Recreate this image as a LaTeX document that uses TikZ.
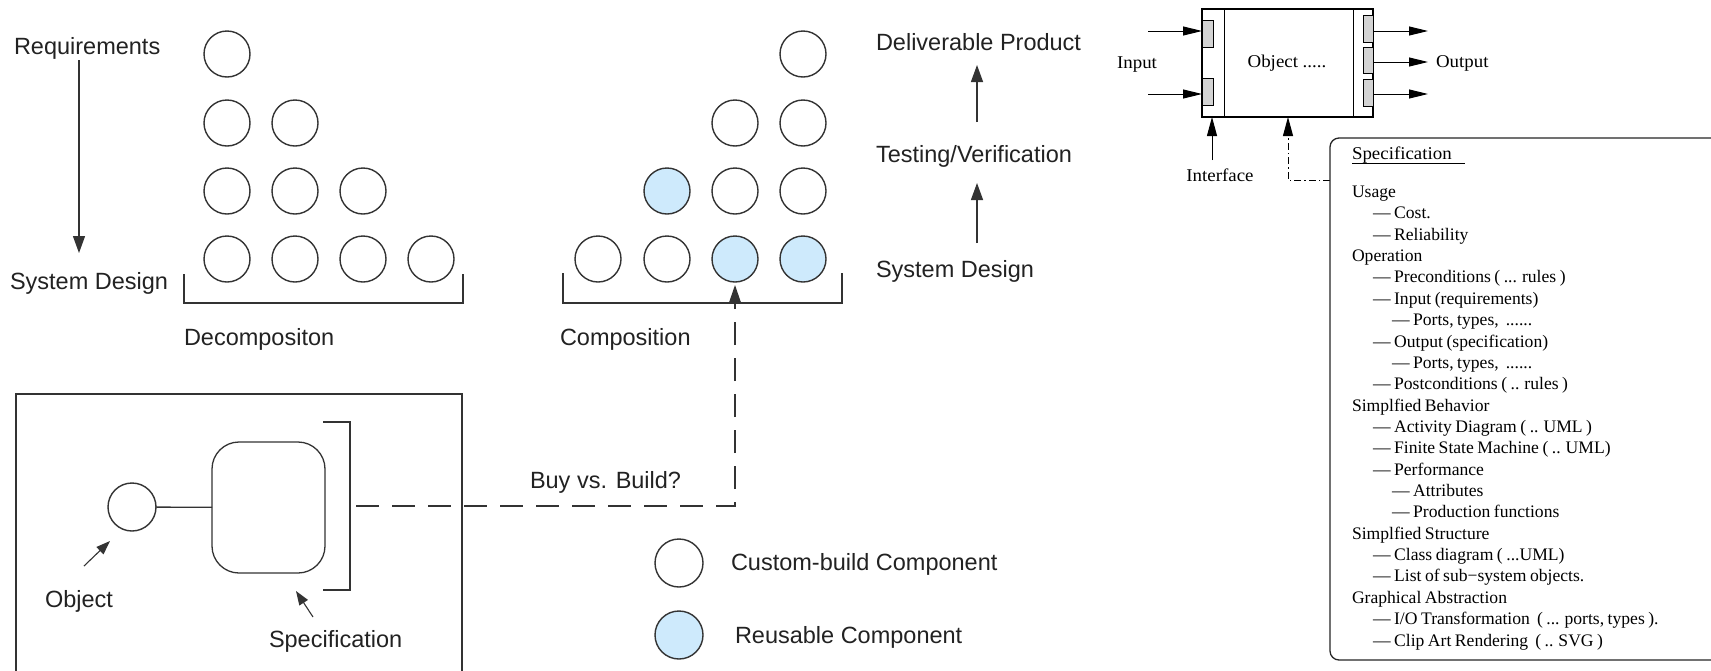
\documentclass[tikz,border=0pt]{standalone}
\usepackage{fontspec}
\newfontfamily\sansf{Liberation Sans}
\newfontfamily\serf[FakeStretch=1.05]{Liberation Serif}
\newfontfamily\serl[WordSpace=0.8]{Liberation Serif}
\usetikzlibrary{arrows.meta}
\definecolor{lc}{HTML}{333333}
\definecolor{txt}{HTML}{222222}
\definecolor{blu}{RGB}{206,234,252}
\definecolor{portg}{RGB}{211,211,211}
\begin{document}
\begin{tikzpicture}[x=1pt,y=-1pt,
  every node/.style={inner sep=0pt, outer sep=0pt},
  comp/.style={circle, draw=lc, line width=1.4pt, minimum size=46pt},
  reuse/.style={comp, fill=blu},
  lbl/.style={font=\sansf\fontsize{23.5}{27}\selectfont, text=txt, anchor=base west},
  sr/.style={font=\serf\fontsize{18}{21}\selectfont, anchor=base west},
  sl/.style={font=\serl\fontsize{17.6}{21}\selectfont, anchor=base west},
  la/.style={sl, xshift=21pt},
  lb/.style={sl, xshift=40pt},
  ln/.style={draw=lc, line width=1.3pt},
  arr/.style={ln, -{Triangle[length=17pt,width=12pt]}},
  sarr/.style={black, line width=1pt, -{Triangle[length=19pt,width=9pt]}},
  parr/.style={ln, line width=1.1pt, -{Triangle[length=14pt,width=10pt]}},
  port/.style={draw=black, line width=0.9pt, fill=portg},
]
\useasboundingbox (0,0) rectangle (1711,670);
\fill[white] (0,0) rectangle (1711,670);

% ---------- Decomposition ----------
\node[lbl] (req) at (14,54.5) {Requirements};
\node[lbl] (sd1) at (10,289) {System Design};
\coordinate (a1s) at (79,60);
\coordinate (a1e) at (79,253);
\draw[arr] (a1s) -- (a1e);

\node[comp] (d11) at (227,54) {};
\node[comp] (d21) at (227,123) {};
\node[comp] (d22) at (295,123) {};
\node[comp] (d31) at (227,191) {};
\node[comp] (d32) at (295,191) {};
\node[comp] (d33) at (363,191) {};
\node[comp] (d41) at (227,259) {};
\node[comp] (d42) at (295,259) {};
\node[comp] (d43) at (363,259) {};
\node[comp] (d44) at (431,259) {};
\draw[ln] (184,274) -- (184,303) -- (463,303) -- (463,274);
\node[lbl] (dec) at (184,345) {Decompositon};

% ---------- Composition ----------
\node[comp] (c14) at (803,54) {};
\node[comp] (c23) at (735,123) {};
\node[comp] (c24) at (803,123) {};
\node[reuse] (c32) at (667,191) {};
\node[comp] (c33) at (735,191) {};
\node[comp] (c34) at (803,191) {};
\node[comp] (c41) at (598,259) {};
\node[comp] (c42) at (667,259) {};
\node[reuse] (c43) at (735,259) {};
\node[reuse] (c44) at (803,259) {};
\draw[ln] (563,273) -- (563,303) -- (842,303) -- (842,273);
\node[lbl] (cmp) at (560,345) {Composition};

% ---------- Lifecycle ----------
\node[lbl] (dp) at (876,50) {Deliverable Product};
\node[lbl] (tv) at (876,162) {Testing/Verification};
\node[lbl] (sd2) at (876,277) {System Design};
\coordinate (a2s) at (977,122);
\coordinate (a2e) at (977,65);
\coordinate (a3s) at (977,243);
\coordinate (a3e) at (977,183);
\draw[arr] (a2s) -- (a2e);
\draw[arr] (a3s) -- (a3e);

% ---------- Object / specification box ----------
\draw[ln] (16,700) -- (16,394) -- (462,394) -- (462,700);
\node[comp, minimum size=48pt] (obj) at (132,507) {};
\node[draw=lc, line width=1.3pt, rounded corners=27pt, minimum width=113pt, minimum height=131pt] (spec) at (268.5,507.5) {};
\draw[ln] (obj) -- (spec);
\draw[ln] (323,422) -- (350,422) -- (350,590) -- (323,590);
\coordinate (sbr) at (356,506);
\node[lbl] (objl) at (45,607) {Object};
\node[lbl] (specl) at (269,647) {Specification};
\coordinate (oa) at (84,566);
\coordinate (ob) at (110,541);
\coordinate (sa) at (313,617);
\coordinate (sb) at (296,591);
\draw[parr] (oa) -- (ob);
\draw[parr] (sa) -- (sb);

\draw[ln, dash pattern=on 23pt off 13pt, -{Triangle[length=18pt,width=12pt]}, shorten >=3pt] (sbr) -| (c43.south);
\node[lbl] (buy) at (530,488) {Buy vs. Build?};

% ---------- Legend ----------
\node[comp, minimum size=48pt] (lg1) at (679,563) {};
\node[reuse, minimum size=48pt] (lg2) at (679,635) {};
\node[lbl] (lt1) at (731,570) {Custom-build Component};
\node[lbl] (lt2) at (735,643) {Reusable Component};

% ---------- Object figure (top right) ----------
\node[draw=black, line width=1.2pt, minimum width=171pt, minimum height=108pt] (obox) at (1287.5,63) {};
\draw[black, line width=1pt] (1224,9) -- (1224,117);
\draw[black, line width=1pt] (1353,9) -- (1353,117);
\node[port, minimum width=11pt, minimum height=27pt] (ip1) at (1207.5,33.5) {};
\node[port, minimum width=11pt, minimum height=27pt] (ip2) at (1207.5,91.5) {};
\node[port, minimum width=10pt, minimum height=27pt] (op1) at (1368,28.5) {};
\node[port, minimum width=10pt, minimum height=26pt] (op2) at (1368,60) {};
\node[port, minimum width=10pt, minimum height=27pt] (op3) at (1368,92.5) {};
\coordinate (i1) at (1148,31);
\coordinate (i2) at (1148,94);
\coordinate (o1) at (1428,31);
\coordinate (o2) at (1428,62);
\coordinate (o3) at (1428,94);
\draw[sarr] (i1) -- (i1 -| ip1.west);
\draw[sarr] (i2) -- (i2 -| ip2.west);
\draw[sarr] (o1 -| op1.east) -- (o1);
\draw[sarr] (o2 -| op2.east) -- (o2);
\draw[sarr] (o3 -| op3.east) -- (o3);
\node[sr, anchor=base] (inl) at (1137,68) {Input};
\node[sr, anchor=base] (objt) at (1287,67) {Object .....};
\node[sr] (outl) at (1436,67) {Output};
\node[sr, anchor=base] (intf) at (1220,181) {Interface};
\coordinate (if0) at (1212,160);
\draw[sarr, -{Triangle[length=19pt,width=10pt]}] (if0) -- (if0 |- obox.south);
\coordinate (dd0) at (1288,180);
\coordinate (dd1) at (1330,180);
\draw[black, line width=1pt, dash pattern=on 7pt off 3pt on 1.5pt off 3pt, -{Triangle[length=19pt,width=10pt]}] (dd1) -- (dd0) -- (dd0 |- obox.south);

% ---------- Specification list ----------
\draw[black!85, line width=1.3pt, rounded corners=9pt] (1330,138) rectangle (1740,660);
\node[sr] (sph) at (1352,159) {Specification};
\draw[black, line width=1pt] (1352,163) -- (1465,163);
\node[sl] (s0) at (1352,197.5) {Usage};
\node[la] (s1) at (1352,218.86) {— Cost.};
\node[la] (s2) at (1352,240.22) {— Reliability};
\node[sl] (s3) at (1352,261.58) {Operation};
\node[la] (s4) at (1352,282.94) {— Preconditions ( ... rules )};
\node[la] (s5) at (1352,304.3) {— Input (requirements)};
\node[lb] (s6) at (1352,325.66) {— Ports, types,\ \ ......};
\node[la] (s7) at (1352,347.02) {— Output (specification)};
\node[lb] (s8) at (1352,368.38) {— Ports, types,\ \ ......};
\node[la] (s9) at (1352,389.74) {— Postconditions ( .. rules )};
\node[sl] (s10) at (1352,411.1) {Simplfied Behavior};
\node[la] (s11) at (1352,432.46) {— Activity Diagram ( .. UML )};
\node[la] (s12) at (1352,453.82) {— Finite State Machine ( .. UML)};
\node[la] (s13) at (1352,475.18) {— Performance};
\node[lb] (s14) at (1352,496.54) {— Attributes};
\node[lb] (s15) at (1352,517.9) {— Production functions};
\node[sl] (s16) at (1352,539.26) {Simplfied Structure};
\node[la] (s17) at (1352,560.62) {— Class diagram ( ...UML)};
\node[la] (s18) at (1352,581.98) {— List of sub−system objects.};
\node[sl] (s19) at (1352,603.34) {Graphical Abstraction};
\node[la] (s20) at (1352,624.7) {— I/O Transformation\ \ ( ... ports, types ).};
\node[la] (s21) at (1352,646.06) {— Clip Art Rendering\ \ ( .. SVG )};
\end{tikzpicture}
\end{document}
